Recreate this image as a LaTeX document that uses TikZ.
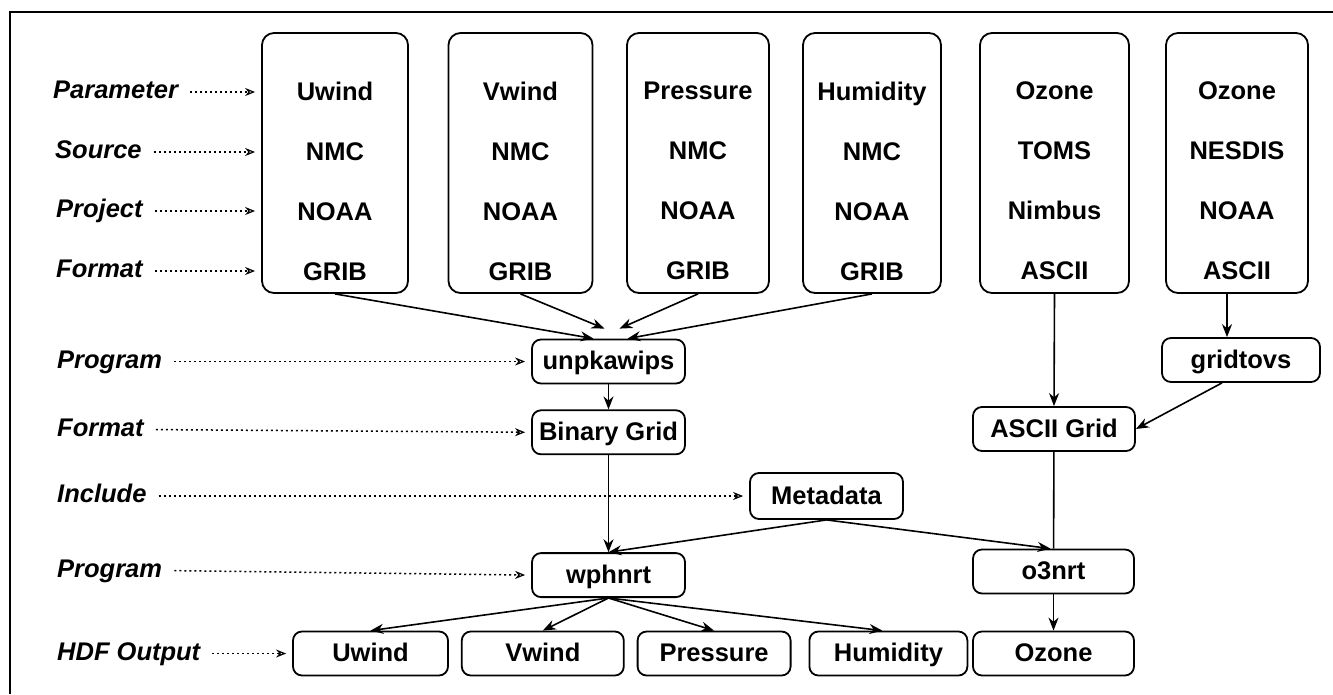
\documentclass[tikz,border=0pt]{standalone}
\usepackage{fontspec}
\setmainfont{Liberation Sans}
\usetikzlibrary{arrows.meta,positioning}

\begin{document}
\begin{tikzpicture}[
  x=1pt, y=-1pt,
  font=\fontsize{25.5}{30}\selectfont\bfseries,
  col/.style={draw, rounded corners=12pt, line width=1.8pt, minimum height=260pt, inner sep=0pt},
  stack/.style={align=center, font=\fontsize{25.5}{60}\selectfont\bfseries, inner sep=0pt},
  box/.style={draw, rounded corners=9pt, line width=1.8pt, minimum height=44pt, inner sep=0pt, text height=18pt, text depth=2pt},
  lab/.style={anchor=west, font=\fontsize{25.5}{30}\selectfont\bfseries\itshape, inner sep=0pt, text height=18pt, text depth=5pt},
  arr/.style={-{Stealth[length=13pt, width=10pt]}, line width=1.6pt},
  dotarr/.style={-{Stealth[length=10pt, width=8pt, open, line width=1.2pt]}, line width=1.5pt, dash pattern=on 2pt off 3pt, shorten <=12pt, shorten >=6pt},
]
\useasboundingbox (0,0) rectangle (1333,694);
% ── frame ─────────────────────────────────────────────────────────────────
\draw[line width=1.8pt] (10,694) -- (10,12) -- (1333,12);

% ── source columns ────────────────────────────────────────────────────────
\node[col, minimum width=146pt] (colU) at (335,163) {};
\node[col, minimum width=144pt] (colV) at (520.5,163) {};
\node[col, minimum width=142pt] (colP) at (698,163) {};
\node[col, minimum width=138pt] (colH) at (872,163) {};
\node[col, minimum width=149pt] (colT) at (1054.5,163) {};
\node[col, minimum width=142pt] (colN) at (1237,163) {};
\node[stack] (txU) at ([yshift=-18pt]colU.center) {Uwind\\NMC\\NOAA\\GRIB};
\node[stack] (txV) at ([yshift=-18pt]colV.center) {Vwind\\NMC\\NOAA\\GRIB};
\node[stack] (txP) at ([yshift=-18pt]colP.center) {Pressure\\NMC\\NOAA\\GRIB};
\node[stack] (txH) at ([yshift=-18pt]colH.center) {Humidity\\NMC\\NOAA\\GRIB};
\node[stack] (txT) at ([yshift=-18pt]colT.center) {Ozone\\TOMS\\Nimbus\\ASCII};
\node[stack] (txN) at ([yshift=-18pt]colN.center) {Ozone\\NESDIS\\NOAA\\ASCII};

% ── processing ────────────────────────────────────────────────────────────
\node[box, minimum width=153pt] (unpk) at (608.5,361.5) {unpkawips};
\node[box, minimum width=153pt, below=25pt of unpk] (bin) {Binary Grid};
\node[box, minimum width=153pt, minimum height=46pt] (meta) at (826.5,496) {Metadata};
\node[box, minimum width=153pt, below=97pt of bin] (wph) {wphnrt};
\node[box, minimum width=158pt] (gtv) at (1241,360) {gridtovs};
\node[box, minimum width=162pt] (agrid) at (1054,429) {ASCII Grid};
\node[box, minimum width=161pt] (o3) at (1053.5,571.5) {o3nrt};

% ── HDF output ────────────────────────────────────────────────────────────
\node[box, minimum width=155pt] (outU) at (370.5,653.5) {Uwind};
\node[box, minimum width=162pt, right=12pt of outU] (outV) {Vwind};
\node[box, minimum width=153pt, right=12pt of outV] (outP) {Pressure};
\node[box, minimum width=158pt, right=17pt of outP] (outH) {Humidity};
\node[box, minimum width=161pt] (outO) at (1053.5,653.5) {Ozone};

% ── row labels ────────────────────────────────────────────────────────────
\node[lab] (lbPar) at (53,92) {Parameter};
\node[lab] (lbSrc) at (55,152) {Source};
\node[lab] (lbPrj) at (56,211) {Project};
\node[lab] (lbFmt) at (56,271) {Format};
\node[lab] (lbPrgA) at (57,361.5) {Program};
\node[lab] (lbFmtB) at (57,429.5) {Format};
\node[lab] (lbInc) at (57,496) {Include};
\node[lab] (lbPrgB) at (57,570.5) {Program};
\node[lab] (lbHdf) at (57,653.5) {HDF Output};

% ── label arrows ──────────────────────────────────────────────────────────
\draw[dotarr] (lbPar.east) -- (lbPar.east -| colU.west);
\draw[dotarr] (lbSrc.east) -- (lbSrc.east -| colU.west);
\draw[dotarr] (lbPrj.east) -- (lbPrj.east -| colU.west);
\draw[dotarr] (lbFmt.east) -- (lbFmt.east -| colU.west);
\draw[dotarr] (lbPrgA.east) -- (unpk.west);
\draw[dotarr] (lbFmtB.east) -- (bin.west);
\draw[dotarr] (lbInc.east) -- (meta.west);
\draw[dotarr] (lbPrgB.east) -- (wph.west);
\draw[dotarr] (lbHdf.east) -- (outU.west);

% ── flow arrows ───────────────────────────────────────────────────────────
\draw[arr] (colU.south) -- ([xshift=-15pt]unpk.north);
\draw[arr] (colV.south) -- ([xshift=-4pt, yshift=10pt]unpk.north);
\draw[arr] (colP.south) -- ([xshift=11pt, yshift=10pt]unpk.north);
\draw[arr] (colH.south) -- ([xshift=19pt]unpk.north);
\draw[arr] (unpk) -- (bin);
\draw[arr] (bin) -- (wph);
\draw[arr] (meta.south) -- (wph.north);
\draw[arr] (meta.south) -- ([xshift=-3pt]o3.north);
\draw[arr] (colT.south) -- (agrid.north);
\draw[arr] ([xshift=-10pt]colN.south) -- ([xshift=-14pt]gtv.north);
\draw[arr] ([xshift=-19pt]gtv.south) -- (agrid.east);
\draw[line width=1.6pt] (agrid) -- (o3);
\draw[arr] (o3) -- (outO);
\draw[arr] (wph.south) -- (outU.north);
\draw[arr] (wph.south) -- (outV.north);
\draw[arr] (wph.south) -- (outP.north);
\draw[arr] (wph.south) -- ([xshift=-6pt]outH.north);
\end{tikzpicture}
\end{document}
